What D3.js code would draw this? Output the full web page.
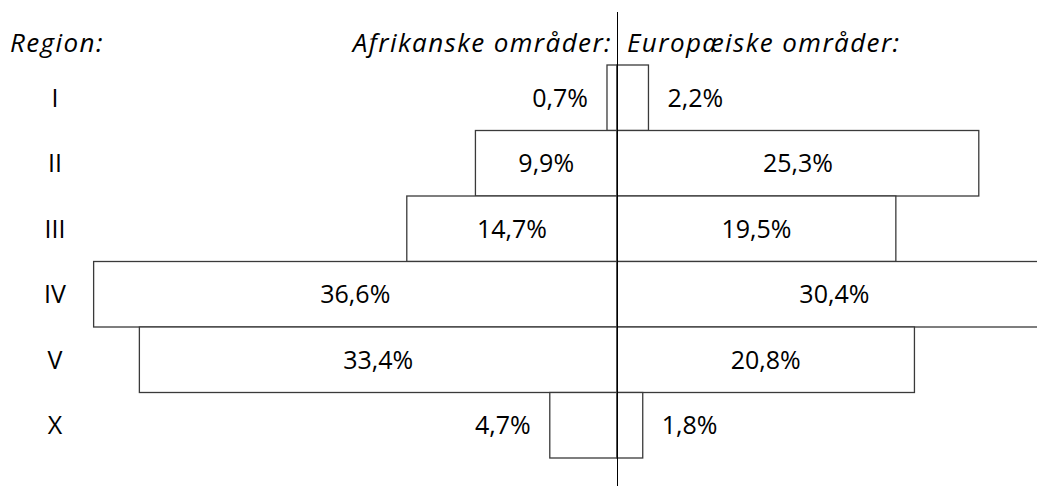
<!DOCTYPE html>
<html>
<head>
<meta charset="utf-8">
<script src="https://cdn.jsdelivr.net/npm/d3@7"></script>
<style>
  body { margin: 0; background: #fff; }
  text { font-family: "Open Sans", sans-serif; fill: #000; }
</style>
</head>
<body>
<div id="chart"></div>
<script>
// data
const regions = ["I", "II", "III", "IV", "V", "X"];
const africa = [0.7, 9.9, 14.7, 36.6, 33.4, 4.7];
const europe = [2.2, 25.3, 19.5, 30.4, 20.8, 1.8];
const titleRegion = "Region:";
const titleAfrica = "Afrikanske områder:";
const titleEurope = "Europæiske områder:";

const W = 1037, H = 486;
const center = 617;
const pxPerPct = 14.3;

const svg = d3.select("#chart").append("svg")
  .attr("width", W)
  .attr("height", H);

// scales
const xRight = d3.scaleLinear().domain([0, 1]).range([center, center + pxPerPct]);
const xLeft = d3.scaleLinear().domain([0, 1]).range([center, center - pxPerPct]);
const y = d3.scaleBand().domain(regions).range([65, 458]).padding(0);

const rows = regions.map((r, i) => ({ region: r, af: africa[i], eu: europe[i] }));

// bars left
svg.selectAll(".barL")
  .data(rows)
  .enter().append("rect")
    .attr("class", "barL")
    .attr("x", d => xLeft(d.af))
    .attr("y", d => y(d.region))
    .attr("width", d => center - xLeft(d.af))
    .attr("height", y.bandwidth())
    .attr("fill", "#fff")
    .attr("stroke", "#3a3a3a")
    .attr("stroke-width", 1.3);

// bars right
svg.selectAll(".barR")
  .data(rows)
  .enter().append("rect")
    .attr("class", "barR")
    .attr("x", center)
    .attr("y", d => y(d.region))
    .attr("width", d => xRight(d.eu) - center)
    .attr("height", y.bandwidth())
    .attr("fill", "#fff")
    .attr("stroke", "#3a3a3a")
    .attr("stroke-width", 1.3);

// center line
svg.append("line")
  .attr("x1", center + 0.5).attr("x2", center + 0.5)
  .attr("y1", 12).attr("y2", H)
  .attr("stroke", "#000")
  .attr("stroke-width", 1);

const fmt = v => d3.format(".1f")(v).replace(".", ",") + "%";
const fs = "25px";
const minInside = 5; // small bars get label outside

// left labels
svg.selectAll(".lblL")
  .data(rows)
  .enter().append("text")
    .attr("x", d => d.af < minInside ? xLeft(d.af) - 19 : xLeft(d.af / 2))
    .attr("y", d => y(d.region) + y.bandwidth() / 2)
    .attr("dy", "0.36em")
    .attr("text-anchor", d => d.af < minInside ? "end" : "middle")
    .style("font-size", fs)
    .text(d => fmt(d.af));

// right labels
svg.selectAll(".lblR")
  .data(rows)
  .enter().append("text")
    .attr("x", d => d.eu < minInside ? xRight(d.eu) + 19 : xRight(d.eu / 2))
    .attr("y", d => y(d.region) + y.bandwidth() / 2)
    .attr("dy", "0.36em")
    .attr("text-anchor", d => d.eu < minInside ? "start" : "middle")
    .style("font-size", fs)
    .text(d => fmt(d.eu));

// region labels
svg.selectAll(".reg")
  .data(regions)
  .enter().append("text")
    .attr("x", 55)
    .attr("y", d => y(d) + y.bandwidth() / 2)
    .attr("dy", "0.36em")
    .attr("text-anchor", "middle")
    .style("font-size", fs)
    .text(d => d);

// headers
const hfs = "26px";
svg.append("text")
  .attr("x", 10).attr("y", 52)
  .style("font-size", hfs).style("font-style", "italic")
  .style("letter-spacing", "1.4px")
  .text(titleRegion);

svg.append("text")
  .attr("x", 612).attr("y", 52)
  .attr("text-anchor", "end")
  .style("font-size", hfs).style("font-style", "italic")
  .style("letter-spacing", "1.4px")
  .text(titleAfrica);

svg.append("text")
  .attr("x", 627).attr("y", 52)
  .style("font-size", hfs).style("font-style", "italic")
  .style("letter-spacing", "1.4px")
  .text(titleEurope);
</script>
</body>
</html>
